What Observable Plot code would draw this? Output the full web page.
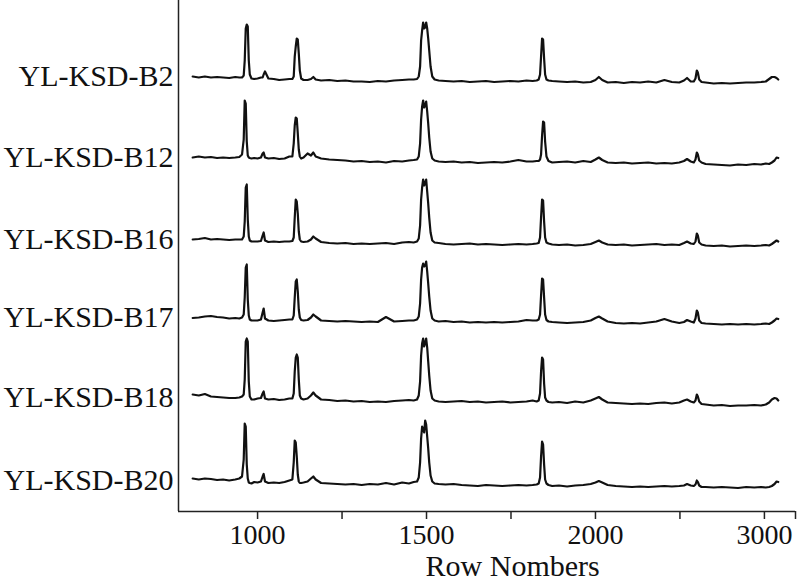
<!DOCTYPE html>
<html>
<head>
<meta charset="utf-8">
<script src="https://cdn.jsdelivr.net/npm/d3@7"></script>
<script src="https://cdn.jsdelivr.net/npm/@observablehq/plot@0.6"></script>
<style>
  html, body { margin: 0; padding: 0; background: #fff; }
</style>
</head>
<body>
<div id="chart"></div>
<script>
// Row numbers (x) sampled along the spectra
const rowNumbers = [
  808, 826, 844, 862, 880, 898, 916, 934, 946,
  954, 959, 962, 965, 968, 971, 974, 977, 982, 990,
  1000, 1010, 1015, 1018, 1022, 1032, 1048, 1064, 1080, 1094,
  1103, 1107, 1110, 1113, 1116, 1119, 1122, 1125, 1129, 1136,
  1148, 1158, 1165, 1172, 1188, 1212, 1236, 1260, 1284, 1308, 1332, 1356, 1380, 1404, 1428, 1448, 1462,
  1472, 1477, 1481, 1484, 1487, 1490, 1493, 1496, 1499, 1502, 1505, 1508, 1512, 1517, 1524,
  1536, 1556, 1580, 1604, 1628, 1652, 1676, 1700, 1724, 1748, 1772, 1796, 1814, 1826,
  1832, 1836, 1839, 1842, 1845, 1848, 1851, 1855, 1861,
  1872, 1892, 1916, 1940, 1964, 1986, 2000, 2010, 2020, 2036, 2060, 2084, 2108, 2132, 2156, 2180, 2204, 2226, 2248, 2262, 2271, 2282, 2291,
  2296, 2300, 2303, 2307, 2314,
  2326, 2350, 2374, 2398, 2422, 2446, 2470, 2490, 2504, 2514, 2522, 2530, 2536, 2541
];

// Sample names and their vertical stacking offsets (intensity units)
const sampleNames = ["YL-KSD-B2", "YL-KSD-B12", "YL-KSD-B16", "YL-KSD-B17", "YL-KSD-B18", "YL-KSD-B20"];
const sampleOffsets = [431, 350, 268, 190, 110, 27];

// Intensities (relative to each sample's offset)
const b2 = [
  4, 3, 4, 3, 3.5, 3, 2.5, 3.5, 3,
  3, 5, 20, 52, 56, 54, 20, 6, 2, 1.5,
  2, 3, 3, 6, 9, 2, 1.5, 0.5, 1, 1.5,
  1.5, 4, 24, 34, 42, 41, 27, 10, 2, 0.5,
  0.5, 1.5, 3.5, 1, 0, 0.5, -0.5, 0, -1, -1, -1.5, -0.5, -1, 0, 0.5, 1, 1,
  1.5, 4, 14, 40, 50, 58, 52, 53, 58, 52, 42, 30, 14, 4, 1,
  0, -0.5, -1, -0.5, -1.5, -1, -0.5, -1.5, -1, -0.5, -1, 0, -0.5, 0,
  1, 6, 24, 42, 41, 22, 6, 1, 0,
  -0.5, -1, -1.5, -1, -2, -1.5, 0.5, 3.5, 0.5, -2, -1.5, -2.5, -1.5, -2, -1, -2, 0.5, -1.5, -2, 0, 2.5, -1, -1,
  2, 10, 8, 1, -1.5,
  -2, -3, -2.5, -3, -2.5, -2, -2, -1.5, -1, 1.5, 3.5, 3.5, 2.5, 1
];
const b12 = [
  4, 5, 4, 4.5, 3.5, 4, 3.5, 4, 4.5,
  7, 22, 61, 58, 20, 6, 4, 3.5, 3, 3.5,
  3, 4, 8, 9, 4, 3, 3.5, 2.5, 3, 5,
  5, 18, 36, 44, 43, 28, 12, 5, 3, 4,
  8, 6, 9, 5, 3, 2, 1.5, 1, 0, 0.5, -0.5, 0, -1, 0.5, 0, 1, 1.5,
  2, 5, 18, 42, 55, 61, 54, 56, 60, 50, 38, 24, 10, 3, 1,
  0, -0.5, 0, -1, -0.5, -1.5, -1, -0.5, -1, 0, 1.5, 0, 0, 0.5,
  0.5, 2, 7, 26, 40, 39, 20, 5, 0.5,
  -1, -0.5, 0, -1, 0.5, -0.5, 2, 4, 1.5, -1, -1.5, -1, -2, -1.5, -1, -2, -1.5, -2, -1, 0.5, 2.5, 0, -1,
  2, 9, 7, 1, -1,
  -2.5, -3, -3.5, -4, -3, -3.5, -2.5, -3, -2, -2.5, -1, 1, 4, 3.5
];
const b16 = [
  4, 4.5, 5.5, 4, 4.5, 4, 3.5, 4, 4,
  4, 7, 22, 56, 59, 24, 7, 3, 2, 2,
  2, 2.5, 8, 11, 3, 1.5, 2, 1.5, 2, 2,
  2.5, 6, 26, 44, 42, 30, 12, 4, 2, 1.5,
  2, 4, 7, 5, 1.5, 0.5, 0, 0.5, -0.5, 0, -0.5, 0, 0.5, -0.5, 1, 1.5, 1,
  2, 5, 18, 44, 56, 64, 58, 60, 64, 52, 40, 26, 11, 3, 1,
  0.5, -0.5, -1, -0.5, 0, -1, -0.5, -1, -1.5, -1, -0.5, -1, -0.5, 0,
  0.5, 6, 26, 44, 43, 22, 6, 1, 0,
  -1, -1.5, -1, -2, -1.5, -0.5, 1.5, 3, 1, -1, -1.5, -1, -2, -1.5, -1, -0.5, -1.5, -1, -1.5, 0.5, 2, 0, -0.5,
  2, 10, 8, 1, -1,
  -2, -2.5, -2, -3, -2.5, -2, -2.5, -2, -1.5, -2, -0.5, 1.5, 3, 2
];
const b17 = [
  3.5, 4, 5, 5.5, 4.5, 4, 3, 3.5, 3,
  4, 7, 24, 54, 57, 22, 6, 2, 1, 1,
  1, 2, 9, 13, 3, 1, 0.5, 1, 1.5, 2,
  2, 6, 24, 40, 42, 30, 12, 4, 1.5, 1,
  1.5, 4, 7, 5, 1, 0.5, 0, 0.5, 0, -0.5, 0, -0.5, 4.5, 0, 0.5, 1, 1,
  2, 5, 18, 42, 54, 58, 55, 56, 60, 50, 38, 25, 11, 3, 1,
  0, 0.5, -0.5, 0, -1, -0.5, -1, -0.5, -1, -0.5, 0, 1.5, 1, 1,
  2, 7, 26, 43, 42, 24, 7, 1.5, 0,
  -0.5, -1, -1.5, -1, -0.5, 1, 3.5, 5, 3, 0, -1.5, -2, -1.5, -2, -1, 0, 2.5, 0, -1.5, -0.5, 1.5, 0, -1,
  3, 11, 9, 1, -1.5,
  -2, -2.5, -3, -2.5, -3, -2.5, -3, -2.5, -2, -2.5, -1, 1, 3, 2.5
];
const b18 = [
  7, 6, 7.5, 5, 4.5, 4, 3.5, 3.5, 4,
  5, 7, 22, 60, 63, 60, 20, 5, 2, 2,
  3, 3.5, 8, 10, 3, 2, 2.5, 1.5, 2, 3,
  3, 8, 30, 44, 47, 44, 22, 6, 3, 2,
  3, 6, 9, 6, 2, 1.5, 0.5, 1, 0, 0.5, -0.5, 0, -0.5, 0.5, 1, 1.5, 1,
  2, 6, 20, 46, 58, 63, 55, 58, 63, 54, 40, 26, 11, 3, 1,
  0, -0.5, 0, 0.5, -0.5, 0, -1, -0.5, 0, -1, -0.5, 0, 1, 0,
  1, 8, 30, 44, 42, 18, 4, 1, -0.5,
  -1, -0.5, -1.5, 0, -1, 1, 3, 4.5, 2, -1, -1.5, -2, -2.5, -2, -2.5, -1.5, -1, -2, -1, 1, 2, 0, -1,
  1, 7, 5, 0, -2.5,
  -3, -4, -3.5, -4.5, -4, -4, -3.5, -4, -3, -1, 2, 3.5, 3, 1
];
const b20 = [
  6, 5, 6, 5.5, 4.5, 5, 4, 5, 6,
  8, 25, 61, 58, 20, 6, 2, 1.5, 1, 2.5,
  2, 3, 8, 10.5, 3, 1.5, 2, 1.5, 2.5, 4,
  5, 22, 44, 42, 28, 10, 3, 1.5, 1.5, 2,
  3, 6, 8, 5, 1.5, 1, 0.5, 0, 0.5, -0.5, 0.5, 0, 1.5, 0, 2, 1, 2.5,
  3, 7, 22, 46, 58, 55, 52, 64, 60, 48, 36, 22, 9, 3, 1,
  0.5, 0, 0.5, -0.5, -1, -1.5, -0.5, -1, -1.5, -1, -0.5, -1, -0.5, 0,
  1, 7, 28, 43, 40, 20, 5, 1, -0.5,
  -1.5, -1, -2, -1, -0.5, 0.5, 2, 3.5, 2, -0.5, -1.5, -2, -2.5, -2, -2.5, -2, -1.5, -2, -1.5, -1, 0.5, -1, -1.5,
  0, 4, 2.5, -1, -2.5,
  -2.5, -3, -2.5, -3, -3.5, -2.5, -3, -2.5, -3, -2.5, -1.5, 0.5, 3, 2.5
];

// X axis ticks and their printed labels (as in the original figure)
const xTickValues = [1000, 1250, 1500, 1750, 2000, 2250, 2500, 2592];
const xTickLabels = ["1000", "", "1500", "", "2000", "", "3000", ""];
const xTitle = "Row Nombers";

const xDomain = [766, 2592];
const yDomain = [0, 511];

const seriesValues = [b2, b12, b16, b17, b18, b20];
const rows = [];
seriesValues.forEach((vals, k) => {
  const n = Math.min(vals.length, rowNumbers.length);
  for (let i = 0; i < n; i++) {
    rows.push({sample: sampleNames[k], row: rowNumbers[i], intensity: sampleOffsets[k] + vals[i]});
  }
});

const serif = "'Liberation Serif', 'Times New Roman', Times, serif";

const chart = Plot.plot({
  width: 800,
  height: 582,
  marginLeft: 178,
  marginRight: 5,
  marginTop: 0,
  marginBottom: 71,
  x: {domain: xDomain},
  y: {domain: yDomain, axis: null},
  style: {fontFamily: serif, background: "#fff", color: "#111"},
  marks: [
    Plot.ruleX([xDomain[0]], {stroke: "#222", strokeWidth: 1.5}),
    Plot.ruleY([yDomain[0]], {stroke: "#222", strokeWidth: 1.5}),
    Plot.axisX({
      ticks: xTickValues,
      tickFormat: d => xTickLabels[xTickValues.indexOf(d)],
      tickSize: 8,
      tickPadding: 5,
      fontSize: 28,
      stroke: "#222",
      strokeWidth: 1.5,
      label: null
    }),
    Plot.line(rows, {
      x: "row",
      y: "intensity",
      z: "sample",
      stroke: "#111",
      strokeWidth: 2.2,
      strokeLinejoin: "round"
    }),
    Plot.text(sampleNames, {
      x: () => xDomain[0],
      y: (d, i) => sampleOffsets[i] + 4,
      text: d => d,
      textAnchor: "end",
      dx: -5,
      fontSize: 30,
      fill: "#111"
    }),
    Plot.text([xTitle], {
      x: () => 1755,
      frameAnchor: "bottom",
      lineAnchor: "top",
      dy: 43,
      text: d => d,
      fontSize: 30,
      fill: "#111"
    })
  ]
});

document.getElementById("chart").appendChild(chart);
</script>
</body>
</html>
